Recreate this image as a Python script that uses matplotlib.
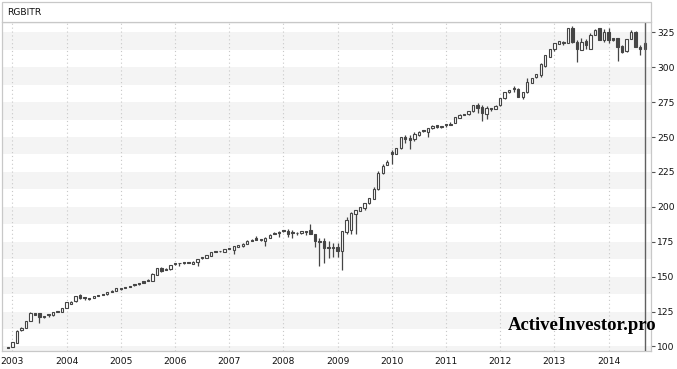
import matplotlib
matplotlib.use("Agg")
import matplotlib.pyplot as plt
import numpy as np
import pandas as pd
from matplotlib.patches import Rectangle

plt.rcParams['font.family'] = ['DejaVu Sans']

title = "RGBITR"
watermark = "ActiveInvestor.pro"
start_month = "2002-12-01"

opens = [99.2, 99.8, 102.7, 111.5, 113.5, 118.4, 123.6, 123.7, 121.5, 122.6, 122.3, 125.3, 124.6,
         127.7, 130.4, 132.3, 137.0, 134.9, 134.6, 134.9, 136.5, 137.2, 137.3, 139.9, 139.7,
         141.7, 142.3, 143.2, 144.6, 145.5, 146.6, 147.9, 147.2, 151.4, 156.1, 155.3, 155.2,
         159.5, 159.7, 160.3, 160.6, 159.2, 160.8, 163.6, 163.4, 165.1, 168.1, 168.2, 167.8,
         170.5, 169.0, 171.5, 171.6, 173.3, 176.5, 177.4, 177.1, 175.5, 177.6, 181.6, 182.3,
         183.5, 182.7, 181.2, 181.1, 181.0, 182.3, 183.2, 180.5, 175.3, 175.5, 171.2, 171.2,
         171.4, 168.6, 181.7, 183.4, 194.8, 197.0, 199.1, 202.4, 205.6, 212.5, 224.4, 229.9,
         239.2, 238.2, 241.8, 249.7, 249.5, 248.3, 251.4, 254.2, 253.8, 256.2, 258.4, 257.6,
         258.7, 259.6, 260.4, 263.8, 266.1, 266.2, 268.4, 272.7, 271.5, 266.2, 270.2, 270.3,
         272.7, 277.7, 282.0, 284.5, 284.6, 279.0, 282.0, 288.9, 292.7, 294.4, 300.8, 307.6,
         313.2, 316.7, 318.4, 317.3, 327.9, 317.9, 312.5, 319.0, 313.0, 323.0, 327.9, 319.7,
         325.6, 320.8, 320.8, 315.4, 311.3, 320.3, 325.6, 314.8, 313.3]
closes = [98.9, 103.0, 111.3, 113.5, 118.0, 123.7, 122.8, 120.8, 120.9, 122.3, 124.6, 124.7, 127.3,
          131.8, 132.0, 136.0, 134.7, 134.6, 134.3, 135.8, 136.1, 136.8, 139.0, 139.0, 141.6,
          141.4, 141.8, 142.6, 143.8, 144.5, 145.6, 146.8, 152.0, 156.1, 154.2, 155.0, 158.3,
          158.8, 159.4, 160.0, 160.0, 160.8, 162.4, 163.0, 165.6, 167.5, 167.9, 168.0, 169.5,
          169.8, 171.6, 172.5, 173.7, 175.8, 175.6, 176.2, 175.9, 178.0, 180.0, 180.5, 181.1,
          182.4, 180.7, 181.0, 180.9, 182.7, 182.0, 180.5, 175.7, 175.0, 170.7, 170.6, 170.6,
          168.6, 182.6, 190.5, 195.3, 197.7, 199.6, 202.4, 206.0, 212.5, 224.4, 229.2, 232.3,
          238.0, 241.8, 249.7, 248.5, 248.1, 251.9, 253.3, 254.0, 256.2, 258.0, 257.0, 257.4,
          258.3, 258.8, 264.0, 265.5, 265.9, 268.4, 272.7, 271.0, 267.0, 270.8, 270.0, 272.4,
          277.7, 282.0, 283.6, 284.3, 279.0, 282.2, 289.6, 292.0, 294.9, 302.0, 308.5, 313.0,
          317.2, 318.6, 317.5, 327.9, 317.9, 313.2, 318.4, 316.0, 323.0, 327.0, 319.7, 325.6,
          319.2, 319.3, 314.2, 310.6, 320.1, 325.6, 314.4, 313.3, 317.4]
highs = [99.3, 103.2, 111.5, 114.0, 118.3, 124.6, 123.9, 124.0, 121.7, 122.8, 124.8, 125.6, 127.6,
         132.0, 132.3, 136.3, 137.6, 135.1, 134.8, 136.0, 136.7, 137.4, 139.2, 140.1, 142.0,
         141.9, 142.5, 143.4, 145.0, 145.7, 146.8, 148.1, 152.3, 156.4, 156.8, 156.0, 158.6,
         159.8, 159.9, 160.5, 160.8, 161.0, 162.6, 163.8, 165.8, 167.8, 168.6, 168.7, 169.8,
         170.7, 171.8, 172.7, 173.9, 176.0, 176.7, 178.8, 177.3, 178.2, 180.3, 181.8, 182.5,
         183.7, 183.9, 183.3, 182.0, 182.9, 182.5, 187.5, 180.7, 177.5, 177.4, 175.5, 174.0,
         174.3, 182.8, 193.0, 196.2, 198.0, 199.9, 202.7, 206.3, 214.4, 225.6, 231.0, 233.5,
         241.0, 242.1, 250.0, 251.6, 251.3, 253.8, 254.6, 254.4, 256.5, 258.3, 258.6, 258.2,
         258.9, 260.8, 264.3, 266.5, 266.7, 268.7, 273.0, 274.6, 272.7, 272.0, 270.4, 272.7,
         278.0, 282.3, 283.9, 286.5, 284.8, 282.5, 292.0, 292.3, 295.2, 303.2, 308.8, 313.3,
         317.5, 318.9, 318.7, 328.2, 329.7, 319.5, 320.8, 320.4, 324.6, 327.3, 328.2, 327.2,
         328.0, 321.0, 321.0, 315.6, 320.4, 327.0, 325.8, 316.2, 318.0]
lows = [98.8, 99.5, 102.5, 110.8, 113.3, 118.2, 122.5, 117.0, 120.6, 121.0, 122.0, 124.5, 124.4,
        127.5, 130.2, 132.0, 134.0, 133.5, 133.3, 134.6, 135.9, 136.6, 137.1, 138.8, 139.4,
        140.5, 141.6, 142.4, 143.4, 144.3, 145.4, 146.6, 147.0, 151.2, 153.4, 154.4, 155.0,
        158.6, 157.8, 158.8, 159.8, 159.0, 157.7, 162.8, 163.2, 164.9, 167.4, 167.5, 167.6,
        169.6, 166.0, 171.3, 171.4, 173.1, 175.4, 176.0, 175.7, 172.0, 177.4, 180.3, 178.7,
        182.2, 178.6, 178.0, 180.0, 180.8, 180.0, 180.3, 171.4, 157.8, 160.0, 163.6, 164.3,
        164.3, 154.7, 180.5, 180.5, 180.7, 196.8, 197.7, 202.2, 205.4, 212.3, 223.2, 229.7,
        230.4, 238.0, 241.6, 246.0, 241.6, 247.4, 250.6, 253.5, 249.7, 256.0, 256.8, 256.8,
        257.4, 258.6, 260.2, 263.6, 265.6, 266.0, 268.2, 267.0, 261.7, 262.7, 269.0, 270.1,
        272.5, 277.5, 281.8, 282.5, 278.8, 277.5, 281.8, 288.7, 292.5, 293.2, 300.5, 307.4,
        311.6, 316.5, 315.7, 317.1, 317.7, 303.5, 312.3, 313.4, 312.8, 322.8, 319.5, 318.0,
        317.5, 319.1, 304.6, 310.4, 311.1, 320.1, 314.2, 309.0, 313.1]

y_ticks = [100, 125, 150, 175, 200, 225, 250, 275, 300, 325]

W, H = 677, 369
fig = plt.figure(figsize=(W / 100, H / 100), dpi=100)

# axes placement in pixels
left_px, right_px, top_px, bottom_px = 2, 651, 22.3, 351
ax = fig.add_axes([left_px / W, 1 - bottom_px / H, (right_px - left_px) / W, (bottom_px - top_px) / H])

dates = pd.date_range(start_month, periods=len(opens), freq="MS")
x = np.arange(len(opens))

o = np.array(opens); c = np.array(closes); h = np.array(highs); l = np.array(lows)
edge = "#454545"
dark = "#454545"

ax.vlines(x, l, h, color=edge, linewidth=0.9, zorder=3)
up = c >= o
body_bottom = np.minimum(o, c)
body_h = np.maximum(np.abs(c - o), 0.7)
ax.bar(x[up], body_h[up], bottom=body_bottom[up], width=0.52, facecolor="white",
       edgecolor=edge, linewidth=0.8, zorder=4)
ax.bar(x[~up], body_h[~up], bottom=body_bottom[~up], width=0.52, facecolor=dark,
       edgecolor=edge, linewidth=0.8, zorder=4)

ymin, ymax = 96.7, 332.2
ax.set_ylim(ymin, ymax)
ax.set_xlim(-1.3, len(opens) + 0.4)

# alternating bands
for t in y_ticks:
    ax.axhspan(t - 12.5, t, facecolor="#f4f4f4", edgecolor="none", zorder=0)

# year gridlines
year_pos = [i for i, d in enumerate(dates) if d.month == 1]
year_lab = [str(dates[i].year) for i in year_pos]
for p in year_pos:
    ax.axvline(p, color="#c8c8c8", linestyle=(0, (1, 2.5)), linewidth=0.8, zorder=1)

# cursor line at last candle
ax.axvline(x[-1], color="#606060", linewidth=1.0, zorder=5)

ax.set_xticks(year_pos)
ax.set_xticklabels(year_lab)
ax.tick_params(axis="x", length=0, pad=4, labelsize=6.6, colors="#111111")
ax.yaxis.tick_right()
ax.set_yticks(y_ticks)
ax.set_yticklabels([str(t) for t in y_ticks])
ax.tick_params(axis="y", length=3, width=0.8, pad=1.5, labelsize=6.6, colors="#111111")
ax.tick_params(axis="y", color="#555555")

for s in ax.spines.values():
    s.set_color("#c8c8c8")
    s.set_linewidth(0.9)

# title box
fig.patches.append(Rectangle((left_px / W, 1 - top_px / H), (right_px - left_px) / W, (top_px - 2) / H,
                             transform=fig.transFigure, facecolor="white", edgecolor="#c8c8c8",
                             linewidth=0.9, zorder=0))
fig.text(7 / W, 1 - 12.5 / H, title, fontsize=6.6, va="center", ha="left", color="#111111")

fig.text(582 / W, 1 - 325 / H, watermark, fontsize=13.5, fontweight="bold",
         family="Liberation Serif", ha="center", va="center", color="black")

fig.savefig("out.png", dpi=100)
